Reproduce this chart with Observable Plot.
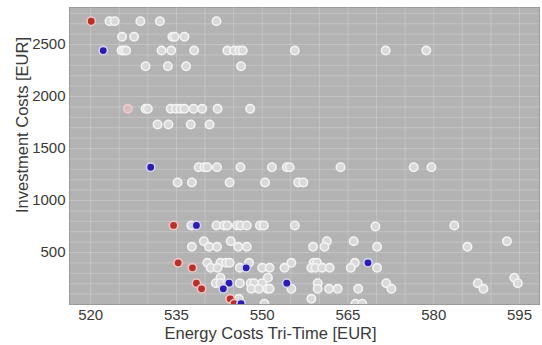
<!DOCTYPE html>
<html>
<head>
<meta charset="utf-8">
<script src="https://cdn.jsdelivr.net/npm/d3@7"></script>
<script src="https://cdn.jsdelivr.net/npm/@observablehq/plot@0.6"></script>
<style>
  html, body { margin: 0; padding: 0; background: #fff; }
  #chart svg { font-family: "Liberation Sans", Arial, sans-serif; }
</style>
</head>
<body>
<div id="chart"></div>
<script>
// Axis ticks
const xTicks = [520, 535, 550, 565, 580, 595];
const yTicks = [500, 1000, 1500, 2000, 2500];
const xTitle = ["Energy Costs Tri-Time [EUR]"];
const yTitle = ["Investment Costs [EUR]"];

// [Energy Costs Tri-Time, Investment Costs]
const otherPoints = [
  [523.3,2724],[524.2,2724],[528.7,2724],[532.1,2724],[542.0,2724],
  [525.5,2574],[527.6,2574],[534.3,2574],[534.7,2574],[536.4,2574],
  [525.4,2442],[525.8,2442],[526.2,2442],[532.4,2442],[534.1,2442],[538.1,2442],[543.9,2442],[545.1,2442],[546.0,2442],[546.6,2442],[555.7,2442],[571.6,2442],[578.7,2442],
  [529.6,2291],[533.5,2291],[536.7,2291],[546.3,2291],
  [529.6,1882],[530.0,1882],[534.0,1882],[534.9,1882],[535.7,1882],[536.4,1882],[538.0,1882],[539.5,1882],[542.2,1882],[547.9,1882],
  [531.7,1731],[533.6,1731],[537.5,1731],[540.8,1731],
  [538.9,1320],[539.9,1320],[540.4,1320],[542.1,1320],[546.2,1320],[551.7,1320],[554.3,1320],[554.8,1320],[563.7,1320],[576.5,1320],[579.6,1320],
  [535.2,1173],[537.7,1173],[544.3,1173],[550.5,1173],[556.3,1173],[557.2,1173],
  [537.6,760],[542.0,760],[543.3,760],[543.9,760],[545.6,760],[546.2,760],[547.3,760],[549.6,760],[550.3,760],[555.7,760],[569.8,750],[583.6,760],
  [539.8,609],[544.5,609],[561.3,609],[566.0,609],[592.8,609],
  [537.7,555],[540.7,555],[542.1,555],[545.8,555],[547.3,555],[558.9,555],[560.9,555],[570.1,555],[585.9,555],
  [540.4,401],[542.7,401],[543.7,401],[544.3,401],[547.7,401],[555.1,401],[559.0,401],[559.6,401],[566.2,401],
  [541.0,353],[542.2,353],[546.1,353],[550.0,353],[551.3,353],[553.9,353],[558.6,353],[559.3,353],[560.5,353],[561.8,353],[565.5,353],[570.1,353],
  [542.7,257],[551.0,257],[594.1,257],
  [541.9,205],[542.7,205],[546.1,205],[548.0,205],[548.6,205],[550.0,205],[559.7,205],[571.7,205],[587.7,205],[594.7,205],
  [548.1,151],[549.4,151],[550.9,151],[551.3,151],[555.1,151],[559.7,151],[561.7,151],[563.2,151],[566.8,151],[572.6,151],[588.7,151],
  [545.9,55],[558.6,55],
  [550.4,7],[566.3,7],[567.5,7]
];
const redPoints = [
  [520.1,2724],[534.5,760],[535.3,401],[537.8,353],[538.5,205],[539.4,151],[544.4,55],[545.1,7]
];
const bluePoints = [
  [522.2,2442],[530.5,1320],[538.5,760],[568.5,401],[547.2,353],[544.2,205],[554.3,205],[543.2,151],[546.3,7]
];
const ringPoints = [
  [526.5,1882]
];

const xGrid = d3.range(515, 600, 5);
const yGrid = d3.range(100, 2900, 100);

const chart = Plot.plot({
  width: 542,
  height: 345,
  marginLeft: 69,
  marginRight: 3,
  marginTop: 7,
  marginBottom: 41,
  style: { fontSize: "15px", color: "#3a3a3a", background: "#fff" },
  x: { domain: [516.3, 598.5] },
  y: { domain: [0, 2856] },
  marks: [
    Plot.frame({ fill: "#b3b3b3", stroke: "#9a9a9a", strokeWidth: 1 }),
    Plot.gridX(xGrid, { stroke: "#ffffff", strokeOpacity: 0.2, strokeWidth: 1 }),
    Plot.gridY(yGrid, { stroke: "#ffffff", strokeOpacity: 0.2, strokeWidth: 1 }),
    Plot.axisX(xTicks, { tickSize: 0, tickPadding: 5, fontSize: 15, tickFormat: d3.format("d"), label: null }),
    Plot.axisY(yTicks, { tickSize: 0, tickPadding: 4, fontSize: 15, tickFormat: d3.format("d"), label: null }),
    Plot.text(xTitle, { frameAnchor: "bottom", dx: -34, dy: 29.5, fontSize: 16.5, fill: "#3a3a3a", lineAnchor: "middle", textAnchor: "middle" }),
    Plot.text(yTitle, { frameAnchor: "left", dx: -47, dy: -31, rotate: -90, fontSize: 16.5, fill: "#3a3a3a", lineAnchor: "middle", textAnchor: "middle" }),
    Plot.dot(otherPoints, { x: d => d[0], y: d => d[1], r: 4.2, fill: "#d9d9d9", stroke: "#f3f3f3", strokeWidth: 1.6, clip: true }),
    Plot.dot(ringPoints, { x: d => d[0], y: d => d[1], r: 4.2, fill: "#d2c0c0", stroke: "#f2c8c8", strokeWidth: 1.6, clip: true }),
    Plot.dot(redPoints, { x: d => d[0], y: d => d[1], r: 4.2, fill: "#b8302c", stroke: "#f0c4c2", strokeWidth: 1.6, clip: true }),
    Plot.dot(bluePoints, { x: d => d[0], y: d => d[1], r: 4.2, fill: "#2c1db0", stroke: "#d4d2f0", strokeWidth: 1.6, clip: true })
  ]
});
document.getElementById("chart").appendChild(chart);
</script>
</body>
</html>
